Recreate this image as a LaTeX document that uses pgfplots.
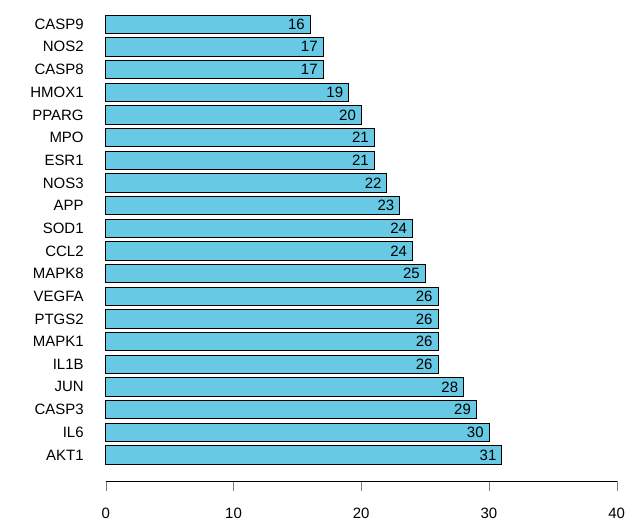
\documentclass[border=0pt]{standalone}
\usepackage{pgfplots}
\pgfplotsset{compat=1.18}
\usepackage{fontspec}
\setmainfont{Liberation Sans}
\definecolor{barblue}{RGB}{104,201,228}
\begin{document}
\fontsize{15}{18}\selectfont
\begin{tikzpicture}
\path (-106pt,-38pt) rectangle (524pt,482pt);
\begin{axis}[
  at={(0,0)}, anchor=south west,
  scale only axis, width=512pt, height=468pt,
  xmin=0, xmax=40, ymin=-0.15, ymax=20.45,
  axis x line*=bottom, axis y line*=left,
  y axis line style={draw=none},
  ytick style={draw=none},
  xtick={0,10,20,30,40},
  tick align=outside,
  major tick length=10pt,
  ytick={1,...,20},
  yticklabels={AKT1,IL6,CASP3,JUN,IL1B,MAPK1,PTGS2,VEGFA,MAPK8,CCL2,SOD1,APP,NOS3,ESR1,MPO,PPARG,HMOX1,CASP8,NOS2,CASP9},
  /pgf/number format/assume math mode=true,
  ticklabel style={font=\fontsize{15}{18}\selectfont},
  xticklabel style={yshift=-12pt},
  yticklabel style={anchor=east, xshift=-7pt},
  xbar, bar width=0.8,
  nodes near coords,
  every node near coord/.append style={anchor=east, xshift=0pt, font=\fontsize{15}{18}\selectfont, /pgf/number format/assume math mode=true},
  clip=false,
]
\addplot[fill=barblue, draw=black, line width=0.7pt] coordinates {
(31,1) (30,2) (29,3) (28,4) (26,5) (26,6) (26,7) (26,8) (25,9) (24,10)
(24,11) (23,12) (22,13) (21,14) (21,15) (20,16) (19,17) (17,18) (17,19) (16,20)
};
\end{axis}
\end{tikzpicture}
\end{document}
